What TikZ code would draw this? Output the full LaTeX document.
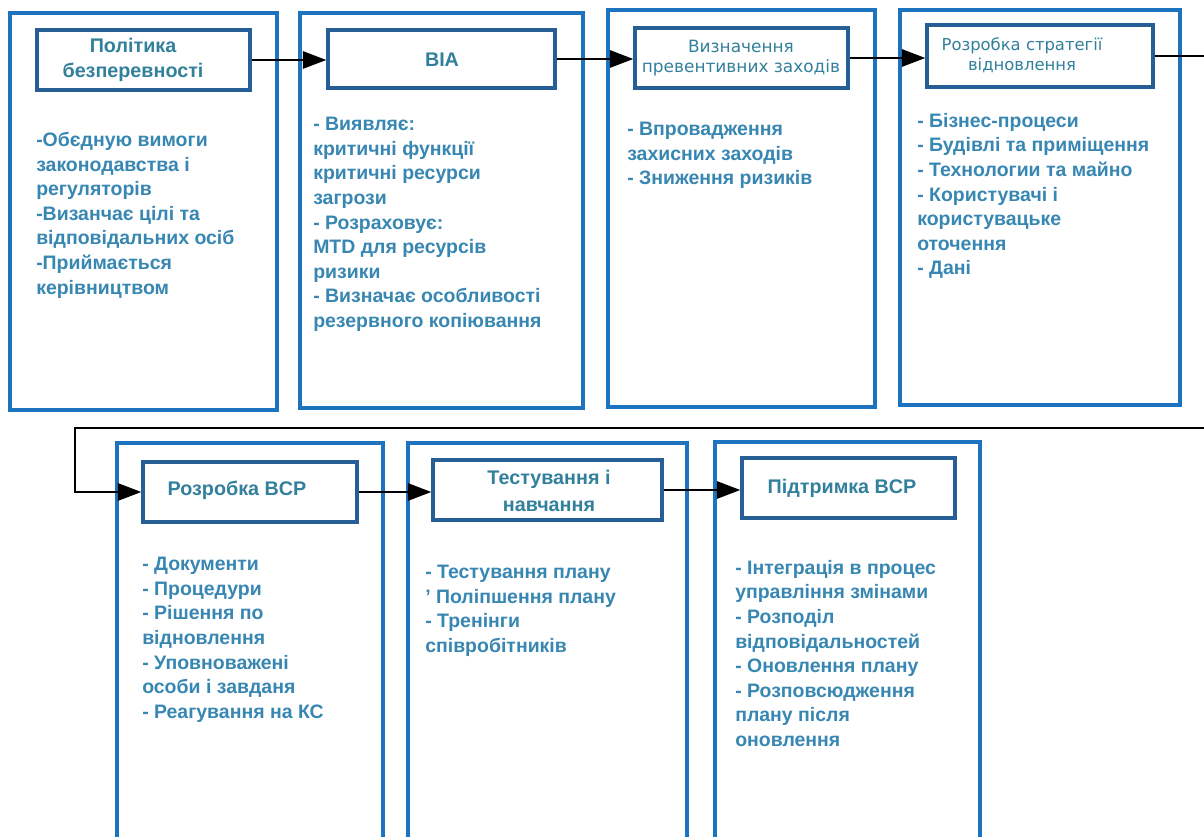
\documentclass[tikz,border=0pt]{standalone}
\usepackage{fontspec}
\setmainfont{Liberation Sans}
\newfontfamily\hfont{DejaVu Sans}
\usetikzlibrary{fit,arrows.meta}
\definecolor{outerc}{RGB}{30,115,190}
\definecolor{hdrc}{RGB}{38,95,150}
\definecolor{txtc}{RGB}{55,135,178}
\definecolor{htxt}{RGB}{50,128,155}
\begin{document}
\begin{tikzpicture}[x=0.75pt,y=-0.75pt,
 outerbox/.style={draw=outerc,line width=2.5pt,inner sep=0pt},
 hdrbox/.style={draw=hdrc,line width=2.6pt,inner sep=0pt,fill=white},
 hdrtxt/.style={inner sep=0pt,text=htxt,align=center,font=\bfseries\fontsize{14.8}{18.75}\selectfont},
 hdrthin/.style={inner sep=0pt,text=htxt,align=center,font=\hfont\fontsize{12.3}{15}\selectfont},
 bodytxt/.style={anchor=north west,inner sep=0pt,align=left,text=txtc,font=\bfseries\fontsize{14.6}{18.45}\selectfont},
 conn/.style={draw=black,line width=1.3pt},
 arr/.style={conn,-{Triangle[length=17.5pt,width=13pt]}}]
\fill[white] (0,0) rectangle (1204,837);
\useasboundingbox (0,0) rectangle (1204,837);

% outer boxes, top row
\node[outerbox,fit={(10,13) (277,410)}] (o1) {};
\node[outerbox,fit={(300,13) (583,408)}] (o2) {};
\node[outerbox,fit={(608,10) (875,407)}] (o3) {};
\node[outerbox,fit={(900,10) (1180,405)}] (o4) {};
% outer boxes, bottom row
\node[outerbox,fit={(117,443) (383,860)}] (o5) {};
\node[outerbox,fit={(408,443) (687,860)}] (o6) {};
\node[outerbox,fit={(715,442) (980,860)}] (o7) {};

% header boxes
\node[hdrbox,fit={(37,30) (250,90)}] (h1) {};
\node[hdrbox,fit={(328,30) (555,88)}] (h2) {};
\node[hdrbox,fit={(635,28) (848,88)}] (h3) {};
\node[hdrbox,fit={(927,25) (1153,87)}] (h4) {};
\node[hdrbox,fit={(143,462) (357,522)}] (h5) {};
\node[hdrbox,fit={(433,460) (662,520)}] (h6) {};
\node[hdrbox,fit={(742,458) (955,518)}] (h7) {};

% header texts
\node[hdrtxt] (t1) at (133,60) {Політика\\безперевності};
\node[hdrtxt] (t2) at (442,60) {BIA};
\node[hdrthin,font=\hfont\fontsize{12.7}{15.5}\selectfont] (t3) at (741,58) {Визначення\\превентивних заходів};
\node[hdrthin] (t4) at (1022,55) {Розробка стратегії\\відновлення};
\node[hdrtxt] (t5) at (237,490) {Розробка BCP};
\node[hdrtxt,font=\bfseries\fontsize{14.8}{20}\selectfont] (t6) at (549,491) {Тестування і\\навчання};
\node[hdrtxt] (t7) at (842,488) {Підтримка BCP};

% body texts
\node[bodytxt] (b1) at (36,132) {-Обєдную вимоги\\законодавства і\\регуляторів\\-Визанчає цілі та\\відповідальних осіб\\-Приймається\\керівництвом};
\node[bodytxt] (b2) at (313,117) {- Виявляє:\\критичні функції\\критичні ресурси\\загрози\\- Розраховує:\\MTD для ресурсів\\ризики\\- Визначає особливості\\резервного копіювання};
\node[bodytxt] (b3) at (627,122) {- Впровадження\\захисних заходів\\- Зниження ризиків};
\node[bodytxt] (b4) at (917,113) {- Бізнес-процеси\\- Будівлі та приміщення\\- Технологии та майно\\- Користувачі і\\користувацьке\\оточення\\- Дані};
\node[bodytxt] (b5) at (142,557) {- Документи\\- Процедури\\- Рішення по\\відновлення\\- Уповноважені\\особи і завданя\\- Реагування на КС};
\node[bodytxt] (b6) at (425,565) {- Тестування плану\\' Поліпшення плану\\- Тренінги\\співробітників};
\node[bodytxt] (b7) at (735,560) {- Інтеграція в процес\\управління змінами\\- Розподіл\\відповідальностей\\- Оновлення плану\\- Розповсюдження\\плану після\\оновлення};

% connectors
\draw[arr] (h1.east) -- (h1.east -| h2.west);
\draw[arr] (h2.east) -- (h2.east -| h3.west);
\draw[arr] (h3.east) -- (h3.east -| h4.west);
\coordinate (rt) at (1215,56);
\coordinate (rb) at (1215,428);
\coordinate (lb) at (75,428);
\draw[arr] (h4.east) -- (rt) -- (rb) -- (lb) |- (h5.west);
\draw[arr] (h5.east) -- (h5.east -| h6.west);
\draw[arr] (h6.east) -- (h6.east -| h7.west);
\end{tikzpicture}
\end{document}
